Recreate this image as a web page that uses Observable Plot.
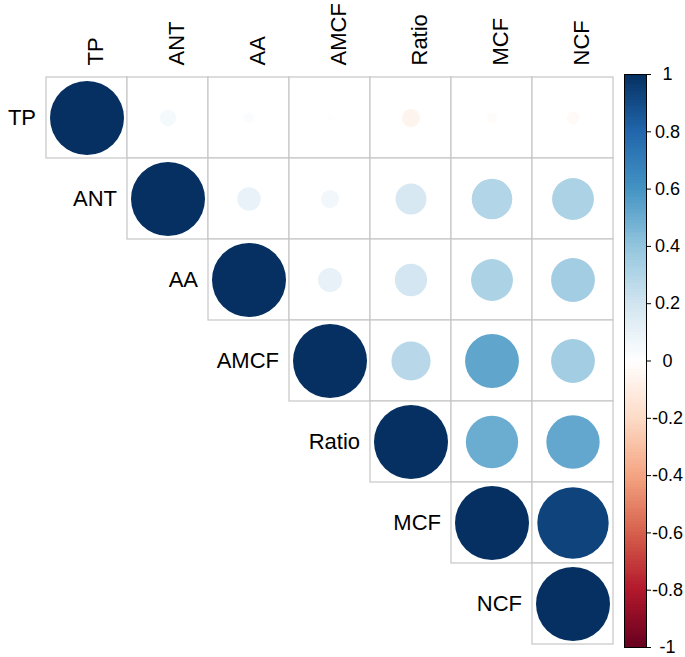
<!DOCTYPE html>
<html>
<head>
<meta charset="utf-8">
<script src="https://cdn.jsdelivr.net/npm/d3@7"></script>
<script src="https://cdn.jsdelivr.net/npm/@observablehq/plot@0.6"></script>
<style>
  html, body { margin: 0; padding: 0; background: #fff; }
  #wrap { position: relative; width: 685px; height: 657px; font-family: "Liberation Sans", Arial, sans-serif; }
  #wrap > svg { position: absolute; left: 0; top: 0; }
</style>
</head>
<body>
<div id="wrap"></div>
<script>
// Variables (row/column order)
const vars = ["TP", "ANT", "AA", "AMCF", "Ratio", "MCF", "NCF"];

// Upper-triangle correlation values, one array per row (starting at the diagonal)
const rowTP    = [1, 0.05, 0.02, 0.01, -0.06, -0.02, -0.03];
const rowANT   = [1, 0.10, 0.06, 0.175, 0.30, 0.32];
const rowAA    = [1, 0.105, 0.19, 0.32, 0.35];
const rowAMCF  = [1, 0.28, 0.53, 0.35];
const rowRatio = [1, 0.50, 0.52];
const rowMCF   = [1, 0.93];
const rowNCF   = [1];

// Colour-bar tick labels
const colorTicks = [-1, -0.8, -0.6, -0.4, -0.2, 0, 0.2, 0.4, 0.6, 0.8, 1];

// corrplot RdBu palette stops
const palette = ["#67001F", "#B2182B", "#D6604D", "#F4A582", "#FDDBC7", "#FFFFFF",
                 "#D1E5F0", "#92C5DE", "#4393C3", "#2166AC", "#053061"];

const rows = [rowTP, rowANT, rowAA, rowAMCF, rowRatio, rowMCF, rowNCF];
const cells = [];
rows.forEach((vals, i) => {
  vals.forEach((v, k) => {
    cells.push({row: vars[i], col: vars[i + k], v});
  });
});

const colorScale = {type: "linear", domain: colorTicks, range: palette, interpolate: "rgb"};
const font = "Liberation Sans, Arial, sans-serif";

const main = Plot.plot({
  width: 685, height: 657,
  marginLeft: 43, marginRight: 70, marginTop: 74, marginBottom: 11,
  style: {fontFamily: font, background: "transparent"},
  x: {domain: vars, padding: 0, axis: null},
  y: {domain: vars, padding: 0, axis: null},
  color: colorScale,
  r: {type: "sqrt", domain: [0, 1], range: [0, 37]},
  marks: [
    Plot.cell(cells, {x: "col", y: "row", fill: "white", stroke: "#c6c6c6", strokeWidth: 1.2, inset: 0}),
    Plot.dot(cells, {x: "col", y: "row", r: d => Math.abs(d.v), fill: "v", stroke: null}),
    Plot.text(vars, {x: d => d, frameAnchor: "top", dy: -9, rotate: -90, textAnchor: "start", fontSize: 22, fill: "black"}),
    Plot.text(vars, {x: d => d, y: d => d, textAnchor: "end", dx: -51, fontSize: 22, fill: "black"})
  ]
});

const steps = d3.range(200).map(i => -1 + i * 0.01);
const bar = Plot.plot({
  width: 685, height: 657,
  marginLeft: 624, marginRight: 39, marginTop: 74, marginBottom: 10,
  style: {fontFamily: font, background: "transparent"},
  x: {domain: [0, 1], axis: null},
  y: {domain: [-1, 1], axis: null},
  color: colorScale,
  marks: [
    Plot.rect(steps, {x1: 0, x2: 1, y1: d => d, y2: d => Math.min(1, d + 0.013), fill: d => d + 0.005,
                      shapeRendering: "crispEdges", inset: 0}),
    Plot.frame({stroke: "black", strokeWidth: 1}),
    Plot.axisY({anchor: "right", ticks: colorTicks, tickSize: 4, tickPadding: 17, textAnchor: "middle",
                fontSize: 18, tickFormat: d => String(+d.toFixed(1)), stroke: "black", fill: "black"})
  ]
});

const wrap = document.getElementById("wrap");
wrap.appendChild(main);
wrap.appendChild(bar);
</script>
</body>
</html>
